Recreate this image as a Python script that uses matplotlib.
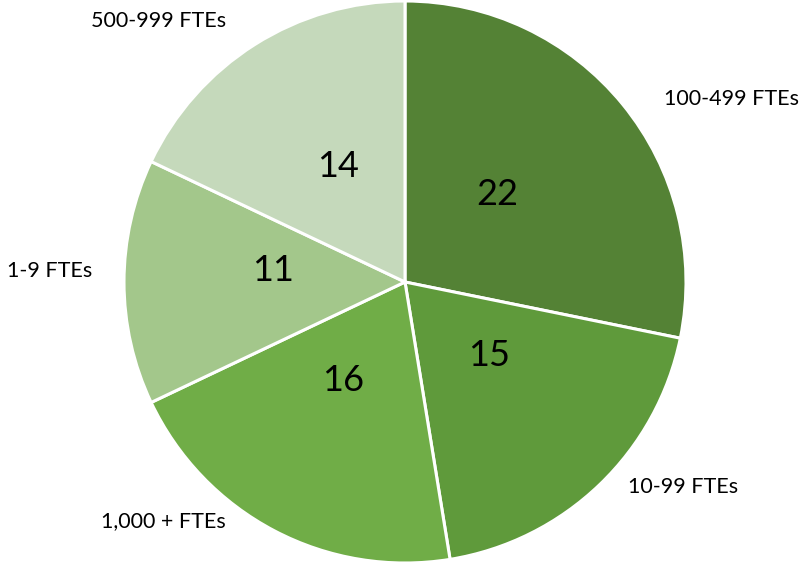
import matplotlib.pyplot as plt

categories = ["100-499 FTEs", "10-99 FTEs", "1,000 + FTEs", "1-9 FTEs", "500-999 FTEs"]
values = [22, 15, 16, 11, 14]
colors = ["#548235", "#5f9a3b", "#70ad47", "#a3c78b", "#c5d9bb"]

# label placements (relative to pie centre, in units of radius)
label_pos = [(1.163, 0.65), (0.99, -0.73), (-0.86, -0.85), (-1.263, 0.04), (-0.878, 0.93)]
value_pos = [(0.33, 0.31), (0.30, -0.26), (-0.22, -0.35), (-0.47, 0.04), (-0.24, 0.41)]

plt.rcParams['font.family'] = ['Lato', 'DejaVu Sans']

fig = plt.figure(figsize=(8.06, 5.64), dpi=100)
ax = fig.add_axes([0, 0, 1, 1])

cx, cy, r = 405, 282, 281
ax.pie(values, colors=colors, startangle=90, counterclock=False,
       center=(cx, cy), radius=r,
       wedgeprops=dict(edgecolor='white', linewidth=2.2))

for cat, (lx, ly) in zip(categories, label_pos):
    ax.text(cx + lx * r, cy + ly * r, cat, ha='center', va='center', fontsize=15.5, color='black')
for v, (vx, vy) in zip(values, value_pos):
    ax.text(cx + vx * r, cy + vy * r, str(v), ha='center', va='center', fontsize=26, color='black')

ax.set_xlim(0, 806)
ax.set_ylim(0, 564)
ax.set_aspect('equal')
ax.axis('off')

fig.savefig("out.png", dpi=100)
